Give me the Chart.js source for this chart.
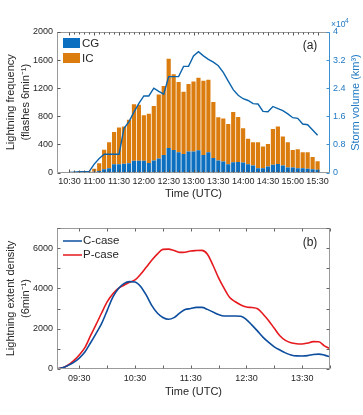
<!DOCTYPE html>
<html>
<head>
<meta charset="utf-8">
<script src="https://cdn.jsdelivr.net/npm/chart.js@4.4.1/dist/chart.umd.min.js"></script>
<style>
  html, body { margin: 0; padding: 0; background: #fff; }
  #wrap { position: relative; width: 363px; height: 415px; }
  canvas { position: absolute; left: 0; }
</style>
</head>
<body>
<div id="wrap">
  <canvas id="topChart" width="363" height="205" style="top:0"></canvas>
  <canvas id="bottomChart" width="363" height="210" style="top:205px"></canvas>
</div>
<script>
// (a) lightning flashes per 6 min, bars end at the listed time
const barTimes = ['10:36','10:42','10:48','10:54','11:00','11:06','11:12','11:18','11:24','11:30',
  '11:36','11:42','11:48','11:54','12:00','12:06','12:12','12:18','12:24','12:30',
  '12:36','12:42','12:48','12:54','13:00','13:06','13:12','13:18','13:24','13:30',
  '13:36','13:42','13:48','13:54','14:00','14:06','14:12','14:18','14:24','14:30',
  '14:36','14:42','14:48','14:54','15:00','15:06','15:12','15:18','15:24','15:30']
const cgFlashes = [2,4,5,6,10,20,48,62,119,119,
  125,130,166,166,166,135,170,200,250,350,
  320,290,265,300,300,315,250,290,205,170,
  157,119,147,150,143,119,100,62,62,86,
  109,120,100,71,71,62,62,52,48,38]
const icFlashes = [3,6,7,9,42,113,275,370,456,522,
  530,620,804,799,649,700,775,910,980,1270,
  1080,1000,885,960,995,1035,1055,1030,800,615,
  613,573,715,640,487,361,330,368,308,319,
  511,535,412,359,251,270,225,235,174,122]

// storm volume, x10^4 km3
const volumeTimes = ['10:30','10:36','10:42','10:48','10:54','11:00','11:06','11:12','11:18','11:24',
  '11:30','11:36','11:42','11:48','11:54','12:00','12:06','12:12','12:18','12:24',
  '12:30','12:36','12:42','12:48','12:54','13:00','13:06','13:12','13:18','13:24',
  '13:30','13:36','13:42','13:48','13:54','14:00','14:06','14:12','14:18','14:24',
  '14:30','14:36','14:42','14:48','14:54','15:00','15:06','15:12','15:18','15:24','15:30']
const stormVolume = [0.00,0.01,0.02,0.02,0.03,0.24,0.40,0.52,0.52,0.52,
  0.52,1.26,1.45,1.72,1.97,2.18,2.18,2.40,2.31,2.23,
  2.73,2.73,2.73,3.02,3.02,3.32,3.44,3.32,3.22,3.14,
  3.04,2.85,2.60,2.36,2.20,2.10,2.05,1.96,1.95,1.74,
  1.73,1.88,1.82,1.76,1.67,1.56,1.54,1.38,1.36,1.21,1.06]

const topTicks = ['10:30','11:00','11:30','12:00','12:30','13:00','13:30','14:00','14:30','15:00','15:30']
const flashTicks = [0, 400, 800, 1200, 1600, 2000]
const volumeTicks = [0, 0.8, 1.6, 2.4, 3.2, 4]

// (b) lightning extent density
const caseTimes = ['09:06','09:12','09:18','09:24','09:30','09:36','09:42','09:48','09:54','10:00',
  '10:06','10:12','10:18','10:24','10:30','10:36','10:42','10:48','10:54','11:00',
  '11:06','11:12','11:18','11:24','11:30','11:36','11:42','11:48','11:54','12:00',
  '12:06','12:12','12:18','12:24','12:30','12:36','12:42','12:48','12:54','13:00',
  '13:06','13:12','13:18','13:24','13:30','13:36','13:42','13:48','13:54','14:00']
const cCase = [15,60,180,330,540,840,1290,1760,2250,2900,
  3560,3990,4240,4340,4320,4100,3680,3160,2780,2560,
  2470,2550,2770,2950,3000,3060,3060,2960,2830,2700,
  2630,2630,2630,2620,2450,2180,1880,1570,1320,1100,
  940,800,700,650,645,665,720,740,690,610]
const pCase = [15,60,200,420,700,1060,1640,2200,2780,3330,
  3720,4000,4160,4310,4420,4700,5050,5400,5700,5940,
  5950,5880,5790,5800,5860,5880,5890,5700,5150,4520,
  4000,3550,3340,3180,3080,3050,2990,2720,2400,2020,
  1650,1420,1300,1250,1240,1290,1360,1350,1150,1010]
const bottomTicks = ['09:30','10:30','11:30','12:30','13:30']
const densityTicks = [0, 1000, 2000, 3000, 4000, 5000, 6000, 7000]

const cgColor = '#0c6fbf'
const icColor = '#db7c0e'
const volColor = '#0a63ab'
const blueAxis = '#3d8fd0'
const cColor = '#0d4d9e'
const pColor = '#e5191e'
const gray = '#9a9a9a'
const ink = '#262626'
const family = '"Liberation Sans", Arial, sans-serif'

Chart.defaults.font.family = family
Chart.defaults.color = ink

function toMin(s) {
    const [h, m] = s.split(':').map(Number)
    return h * 60 + m
}

function fmt(v) {
    return String(Math.floor(v / 60)).padStart(2, '0') + ':' + String(v % 60).padStart(2, '0')
}

function seg(ctx, x1, y1, x2, y2) {
    ctx.beginPath()
    ctx.moveTo(x1, y1)
    ctx.lineTo(x2, y2)
    ctx.stroke()
}

const noGrid = { display: false, drawTicks: false }

const topDecor = {
    id: 'topDecor',
    afterDatasetsDraw(chart) {
        const { ctx, chartArea: a, scales: { x, y, y1 } } = chart
        const l = Math.round(a.left) + 0.5, r = Math.round(a.right) - 0.5
        const t = Math.round(a.top) + 0.5, b = Math.round(a.bottom) - 0.5
        ctx.save()
        ctx.lineWidth = 1
        ctx.strokeStyle = gray
        seg(ctx, l, t, r, t)
        seg(ctx, l, b, r, b)
        seg(ctx, l, t, l, b)
        ctx.strokeStyle = '#555'
        for (let m = x.min; m <= x.max; m += 6) {
            const px = Math.round(x.getPixelForValue(m)) + 0.5
            const len = m % 30 === 0 ? 3 : 2
            seg(ctx, px, t, px, t + len)
            seg(ctx, px, b, px, b - len)
        }
        y.ticks.forEach(tk => {
            const py = Math.round(y.getPixelForValue(tk.value)) + 0.5
            seg(ctx, l, py, l + 3, py)
        })
        ctx.strokeStyle = blueAxis
        seg(ctx, r, t, r, b)
        y1.ticks.forEach(tk => {
            const py = Math.round(y1.getPixelForValue(tk.value)) + 0.5
            seg(ctx, r, py, r - 3, py)
        })
        ctx.restore()
    },
    afterDraw(chart) {
        const { ctx } = chart
        ctx.save()
        ctx.textBaseline = 'middle'
        ctx.font = '11.5px ' + family
        ctx.fillStyle = cgColor
        ctx.fillRect(63, 38, 17, 10)
        ctx.fillStyle = icColor
        ctx.fillRect(63, 53, 17, 10)
        ctx.fillStyle = ink
        ctx.fillText('CG', 82, 43.5)
        ctx.fillText('IC', 82, 58.5)
        ctx.font = '12px ' + family
        ctx.textAlign = 'center'
        ctx.fillText('(a)', 310, 46)
        // right axis title and exponent
        ctx.fillStyle = '#1f78c2'
        ctx.textAlign = 'left'
        ctx.font = '8.5px ' + family
        ctx.fillText('\u00d710', 331, 25)
        ctx.font = '6.5px ' + family
        ctx.fillText('4', 345, 21)
        ctx.translate(356, 102.5)
        ctx.rotate(-Math.PI / 2)
        ctx.textAlign = 'center'
        ctx.font = '11px ' + family
        ctx.fillText('Storm volume (km\u00b3)', 0, 0)
        ctx.restore()
    }
}

const bottomDecor = {
    id: 'bottomDecor',
    afterDatasetsDraw(chart) {
        const { ctx, chartArea: a, scales: { x, y } } = chart
        const l = Math.round(a.left) + 0.5, r = Math.round(a.right) - 0.5
        const t = Math.round(a.top) + 0.5, b = Math.round(a.bottom) - 0.5
        ctx.save()
        ctx.lineWidth = 1
        ctx.strokeStyle = gray
        ctx.strokeRect(l, t, r - l, b - t)
        ctx.strokeStyle = '#666'
        for (let m = 570; m <= x.max; m += 30) {
            const px = Math.round(x.getPixelForValue(m)) + 0.5
            seg(ctx, px, t, px, t + 3)
            seg(ctx, px, b, px, b - 3)
        }
        y.ticks.forEach(tk => {
            const py = Math.round(y.getPixelForValue(tk.value)) + 0.5
            seg(ctx, l, py, l + 3, py)
            seg(ctx, r, py, r - 3, py)
        })
        ctx.restore()
    },
    afterDraw(chart) {
        const { ctx } = chart
        ctx.save()
        ctx.lineWidth = 1.5
        ctx.strokeStyle = cColor
        seg(ctx, 63, 36, 82, 36)
        ctx.strokeStyle = pColor
        seg(ctx, 63, 50, 82, 50)
        ctx.fillStyle = ink
        ctx.textBaseline = 'middle'
        ctx.font = '11.5px ' + family
        ctx.fillText('C-case', 83, 36)
        ctx.fillText('P-case', 83, 50)
        ctx.font = '12px ' + family
        ctx.textAlign = 'center'
        ctx.fillText('(b)', 310, 38)
        ctx.restore()
    }
}

// top chart: stacked bars + storm volume line
new Chart(document.getElementById('topChart'), {
    type: 'bar',
    data: {
        datasets: [
            {
                label: 'CG',
                data: barTimes.map((t, i) => ({ x: toMin(t), y: cgFlashes[i] })),
                backgroundColor: cgColor,
                stack: 'flashes',
                order: 1,
                clip: 0,
                barPercentage: 0.84,
                categoryPercentage: 1,
            },
            {
                label: 'IC',
                data: barTimes.map((t, i) => ({ x: toMin(t), y: icFlashes[i] })),
                backgroundColor: icColor,
                stack: 'flashes',
                order: 1,
                clip: 0,
                barPercentage: 0.84,
                categoryPercentage: 1,
            },
            {
                type: 'line',
                label: 'Storm volume',
                data: volumeTimes.map((t, i) => ({ x: toMin(t), y: stormVolume[i] })),
                yAxisID: 'y1',
                borderColor: volColor,
                borderWidth: 1.4,
                pointRadius: 0,
                tension: 0,
                order: 0,
            },
        ],
    },
    options: {
        responsive: false,
        animation: false,
        layout: { padding: { top: 32, right: 0, bottom: 3, left: 0 } },
        plugins: { legend: { display: false }, tooltip: { enabled: false } },
        scales: {
            x: {
                type: 'linear',
                min: toMin('10:30'),
                max: toMin('15:30'),
                grid: noGrid,
                border: { display: false },
                afterBuildTicks: s => { s.ticks = topTicks.map(t => ({ value: toMin(t) })) },
                afterFit: s => { s.height = 29.5 },
                ticks: { callback: v => fmt(v), autoSkip: false, maxRotation: 0, padding: 4, font: { size: 9 } },
                title: { display: true, text: 'Time (UTC)', font: { size: 11 }, padding: { top: 0, bottom: 1 } },
            },
            y: {
                stacked: true,
                min: 0,
                max: 2000,
                grid: noGrid,
                border: { display: false },
                afterBuildTicks: s => { s.ticks = flashTicks.map(v => ({ value: v })) },
                afterFit: s => { s.width = 57 },
                ticks: { padding: 4, font: { size: 9 }, callback: v => String(v) },
                title: {
                    display: true,
                    text: ['Lightning frequency', '(flashes 6min\u207b\u00b9)'],
                    font: { size: 11, lineHeight: 1.4 },
                    padding: { top: 3, bottom: 0 },
                },
            },
            y1: {
                position: 'right',
                min: 0,
                max: 4,
                grid: noGrid,
                border: { display: false },
                afterBuildTicks: s => { s.ticks = volumeTicks.map(v => ({ value: v })) },
                afterFit: s => { s.width = 33 },
                ticks: { padding: 3, color: '#1f78c2', font: { size: 9 }, callback: v => String(v) },
            },
        },
    },
    plugins: [topDecor],
})

// bottom chart: extent density for the two cases
new Chart(document.getElementById('bottomChart'), {
    type: 'line',
    data: {
        datasets: [
            {
                label: 'C-case',
                data: caseTimes.map((t, i) => ({ x: toMin(t), y: cCase[i] })),
                borderColor: cColor,
                borderWidth: 1.6,
                pointRadius: 0,
                cubicInterpolationMode: 'monotone',
            },
            {
                label: 'P-case',
                data: caseTimes.map((t, i) => ({ x: toMin(t), y: pCase[i] })),
                borderColor: pColor,
                borderWidth: 1.6,
                pointRadius: 0,
                cubicInterpolationMode: 'monotone',
            },
        ],
    },
    options: {
        responsive: false,
        animation: false,
        layout: { padding: { top: 23, right: 33, bottom: 15, left: 0 } },
        plugins: { legend: { display: false }, tooltip: { enabled: false } },
        scales: {
            x: {
                type: 'linear',
                min: toMin('09:06'),
                max: toMin('14:00'),
                grid: noGrid,
                border: { display: false },
                afterBuildTicks: s => { s.ticks = bottomTicks.map(t => ({ value: toMin(t) })) },
                afterFit: s => { s.height = 31 },
                ticks: { callback: v => fmt(v), autoSkip: false, maxRotation: 0, padding: 4, font: { size: 9 } },
                title: { display: true, text: 'Time (UTC)', font: { size: 11 }, padding: { top: 0, bottom: 1 } },
            },
            y: {
                min: 0,
                max: 7000,
                grid: noGrid,
                border: { display: false },
                afterBuildTicks: s => { s.ticks = densityTicks.map(v => ({ value: v })) },
                afterFit: s => { s.width = 57 },
                ticks: { padding: 4, font: { size: 9 }, callback: v => (v % 2000 === 0 ? String(v) : '') },
                title: {
                    display: true,
                    text: ['Lightning extent density', '(6min\u207b\u00b9)'],
                    font: { size: 11, lineHeight: 1.4 },
                    padding: { top: 3, bottom: 0 },
                },
            },
        },
    },
    plugins: [bottomDecor],
})
</script>
</body>
</html>
